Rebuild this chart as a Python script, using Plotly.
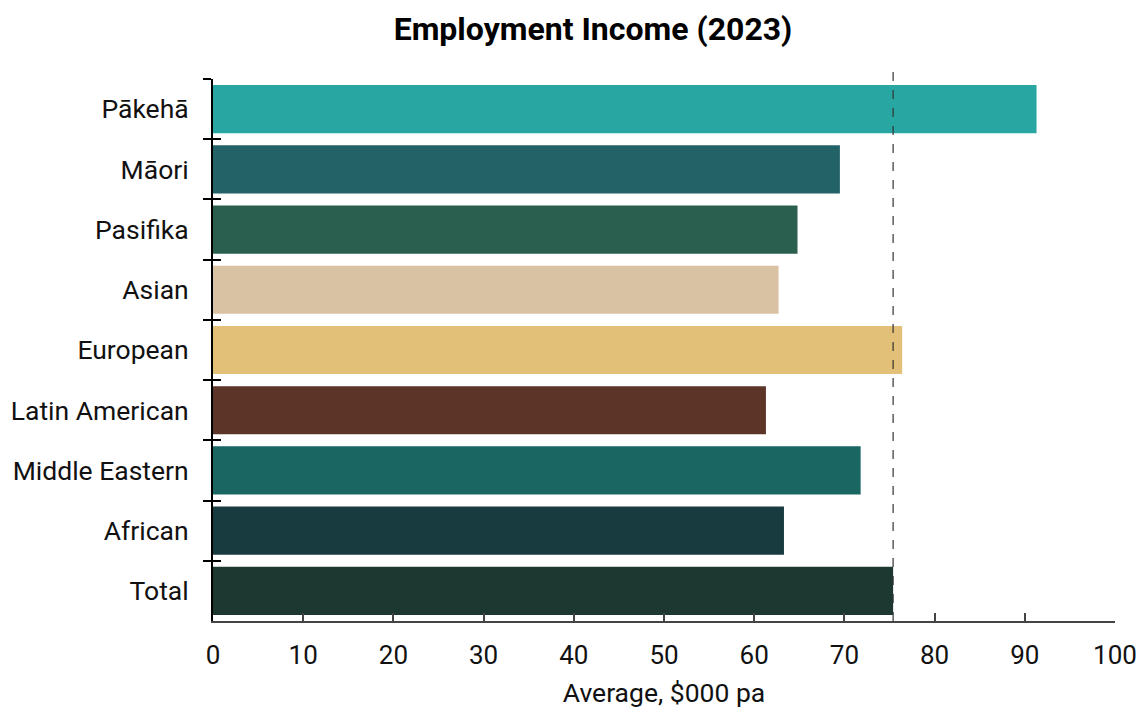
import plotly.graph_objects as go

# data
groups = ['Pākehā', 'Māori', 'Pasifika', 'Asian', 'European',
          'Latin American', 'Middle Eastern', 'African', 'Total']
income = [91.3, 69.5, 64.8, 62.7, 76.4, 61.3, 71.8, 63.3, 75.4]
colors = ['#27A6A2', '#236266', '#2A5F4F', '#D9C1A3', '#E3C077',
          '#5C3428', '#1A6663', '#173B3F', '#1C3830']
total_avg = 75.4
x_ticks = list(range(0, 101, 10))

fig = go.Figure()

fig.add_trace(go.Bar(
    x=income, y=groups, orientation='h',
    marker=dict(color=colors, line=dict(width=0)),
    width=0.8, showlegend=False))

# invisible trace on overlay axis, only for the inward tick marks
fig.add_trace(go.Bar(
    x=[0] * len(groups), y=groups, orientation='h', yaxis='y2',
    marker=dict(opacity=0), showlegend=False, hoverinfo='skip'))

fig.add_shape(type='line', xref='x', yref='paper',
              x0=total_avg, x1=total_avg, y0=0, y1=1.019,
              line=dict(color='#333333', width=1.2, dash='dash'))

fig.update_layout(
    width=1137, height=700,
    paper_bgcolor='white', plot_bgcolor='white',
    font=dict(family='Roboto', size=26, color='#111111'),
    margin=dict(l=205, r=30, t=71, b=87, autoexpand=False),
    title=dict(text='<b>Employment Income (2023)</b>', x=0.5145, xanchor='center',
               y=0.971, yanchor='middle', font=dict(size=32, color='#000000')),
    bargap=0.2,
    xaxis=dict(range=[0, 100], tickvals=x_ticks, ticks='inside', ticklen=8,
               tickwidth=2, tickcolor='#444444', showline=True, linecolor='#444444',
               linewidth=2, showgrid=False, zeroline=False, ticklabelstandoff=10,
               tickfont=dict(size=26), automargin=False,
               title=dict(text='Average, $000 pa', font=dict(size=26.5), standoff=14)),
    yaxis=dict(categoryorder='array', categoryarray=groups, range=[8.5, -0.5],
               ticks='outside', tickson='boundaries', ticklen=8, tickwidth=2,
               tickcolor='black', showline=True, linecolor='black', linewidth=2,
               showgrid=False, zeroline=False, ticklabelstandoff=17,
               tickfont=dict(size=26.5), automargin=False),
    yaxis2=dict(overlaying='y', side='left', categoryorder='array',
                categoryarray=groups, range=[8.5, -0.5], ticks='inside',
                tickson='boundaries', ticklen=8, tickwidth=2, tickcolor='black',
                showticklabels=False, showgrid=False, zeroline=False, showline=False),
)

fig.write_html("out.html")
